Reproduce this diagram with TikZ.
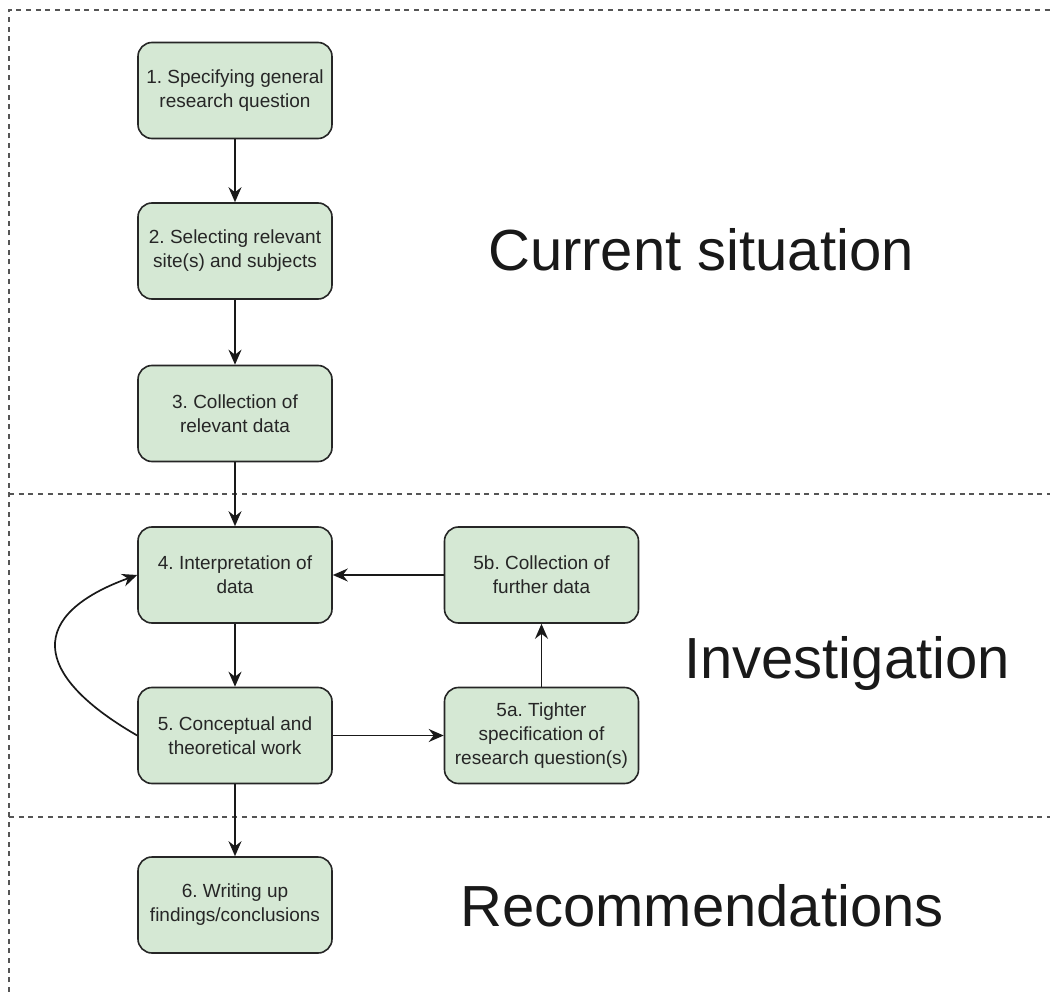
\documentclass[tikz,border=0pt]{standalone}
\usepackage{fontspec}
\setmainfont{Liberation Sans}
\usetikzlibrary{arrows.meta}
\definecolor{boxfill}{HTML}{D5E8D4}
\definecolor{sepline}{HTML}{555555}
\frenchspacing
\begin{document}
\begin{tikzpicture}[x=1pt,y=1pt,
  stepbox/.style={draw=black!85, line width=1.6pt, fill=boxfill, rounded corners=14pt,
    minimum width=194pt, minimum height=96pt, align=center, inner sep=0pt,
    font=\fontsize{19}{24}\selectfont, text=black!85},
  flow/.style={line width=1.7pt, draw=black!90, -{Stealth[length=15pt,width=13pt,inset=5pt]}},
  sep/.style={draw=sepline, line width=1.4pt, dash pattern=on 5pt off 4.7pt},
  zone/.style={font=\fontsize{58}{64}\selectfont, text=black!90, inner sep=0pt}]
\useasboundingbox (0,0) rectangle (1050,-992);

% section separators
\draw[sep] (9,-992) -- (9,-10) -- (1050,-10);
\draw[sep] (9,-494) -- (1050,-494);
\draw[sep] (9,-817) -- (1050,-817);

% steps
\node[stepbox] (n1) at (235,-90.5) {1. Specifying general\\research question};
\node[stepbox] (n2) at (235,-251) {2. Selecting relevant\\site(s) and subjects};
\node[stepbox] (n3) at (235,-413.5) {3. Collection of\\relevant data};
\node[stepbox] (n4) at (235,-575) {4. Interpretation of\\data};
\node[stepbox] (n5) at (235,-735.5) {5. Conceptual and\\theoretical work};
\node[stepbox] (n6) at (235,-905) {6. Writing up\\findings/conclusions};
\node[stepbox] (n5b) at (541.5,-575) {5b. Collection of\\further data};
\node[stepbox] (n5a) at (541.5,-735.5) {5a. Tighter\\specification of\\research question(s)};

% section titles
\node[zone] (t1) at (701,-250) {Current situation};
\node[zone] (t2) at (847,-664) {Investigation};
\node[zone] (t3) at (702,-906) {Recommendations};

% flow
\draw[flow] (n1) -- (n2);
\draw[flow] (n2) -- (n3);
\draw[flow] (n3) -- (n4);
\draw[flow] (n4) -- (n5);
\draw[flow] (n5) -- (n6);
\draw[flow] (n5) -- (n5a);
\draw[flow] (n5a) -- (n5b);
\draw[flow] (n5b) -- (n4);
\draw[flow] (n5.west) .. controls +(150:125) and +(200:115) .. (n4.west);
\end{tikzpicture}
\end{document}
